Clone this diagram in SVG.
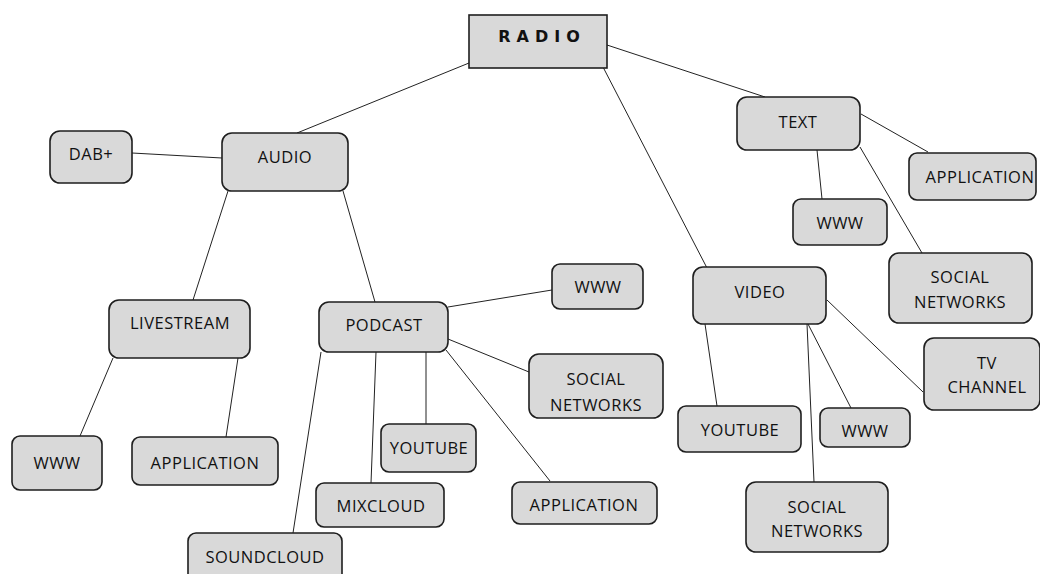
<svg xmlns="http://www.w3.org/2000/svg" width="1040" height="574" viewBox="0 0 1040 574">
<style>
.n{fill:#d9d9d9;stroke:#1e1e1e;stroke-width:1.6}
.t{font-family:"Open Sans","Noto Sans",sans-serif;font-size:16.5px;fill:#111;text-anchor:middle;letter-spacing:0.5px}
.r{font-family:"DejaVu Sans",sans-serif;font-size:16px;font-weight:bold;fill:#111;text-anchor:middle;letter-spacing:6px}
.c line{stroke:#222;stroke-width:1}
</style>
<rect width="1040" height="574" fill="#fff"/>
<g class="c" id="connectors">
<line x1="469" y1="63" x2="297" y2="133"/>
<line x1="607" y1="45" x2="765" y2="97"/>
<line x1="603" y1="67" x2="707" y2="268"/>
<line x1="132" y1="153" x2="222" y2="158"/>
<line x1="228" y1="191" x2="193" y2="300"/>
<line x1="343" y1="191" x2="375" y2="302"/>
<line x1="113" y1="358" x2="80" y2="436"/>
<line x1="238" y1="358" x2="226" y2="437"/>
<line x1="448" y1="307" x2="552" y2="290"/>
<line x1="448" y1="339" x2="529" y2="372"/>
<line x1="426" y1="352" x2="426" y2="424"/>
<line x1="376" y1="352" x2="371" y2="483"/>
<line x1="321" y1="352" x2="293" y2="533"/>
<line x1="446" y1="350" x2="550" y2="481"/>
<line x1="817" y1="150" x2="822" y2="199"/>
<line x1="861" y1="114" x2="928" y2="152"/>
<line x1="860" y1="147" x2="922" y2="253"/>
<line x1="705" y1="324" x2="717" y2="406"/>
<line x1="807" y1="324" x2="814" y2="482"/>
<line x1="808" y1="324" x2="851" y2="408"/>
<line x1="827" y1="300" x2="923" y2="392"/>
</g>
<g id="radio"><rect class="n" x="469" y="15" width="138" height="53"/><text class="r" x="542" y="42">RADIO</text></g>
<g id="dab"><rect class="n" x="50" y="131" width="82" height="52" rx="10"/><text class="t" x="91" y="160">DAB+</text></g>
<g id="audio"><rect class="n" x="222" y="133" width="126" height="58" rx="10"/><text class="t" x="285" y="163">AUDIO</text></g>
<g id="livestream"><rect class="n" x="109" y="300" width="141" height="58" rx="10"/><text class="t" x="180" y="329">LIVESTREAM</text></g>
<g id="podcast"><rect class="n" x="319" y="302" width="129" height="50" rx="10"/><text class="t" x="384" y="331">PODCAST</text></g>
<g id="ls-www"><rect class="n" x="12" y="436" width="90" height="54" rx="8"/><text class="t" x="57" y="469">WWW</text></g>
<g id="ls-app"><rect class="n" x="132" y="437" width="146" height="48" rx="8"/><text class="t" x="205" y="469">APPLICATION</text></g>
<g id="pc-www"><rect class="n" x="552" y="264" width="91" height="45" rx="8"/><text class="t" x="598" y="293">WWW</text></g>
<g id="pc-social"><rect class="n" x="529" y="354" width="134" height="64" rx="10"/><text class="t" x="596" y="385">SOCIAL</text><text class="t" x="596" y="411">NETWORKS</text></g>
<g id="pc-youtube"><rect class="n" x="381" y="424" width="95" height="48" rx="8"/><text class="t" x="429" y="454">YOUTUBE</text></g>
<g id="pc-mixcloud"><rect class="n" x="316" y="483" width="128" height="44" rx="8"/><text class="t" x="381" y="512">MIXCLOUD</text></g>
<g id="pc-app"><rect class="n" x="512" y="482" width="145" height="42" rx="8"/><text class="t" x="584" y="511">APPLICATION</text></g>
<g id="pc-soundcloud"><rect class="n" x="188" y="533" width="154" height="50" rx="8"/><text class="t" x="265" y="563">SOUNDCLOUD</text></g>
<g id="text"><rect class="n" x="737" y="97" width="123" height="53" rx="10"/><text class="t" x="798" y="128">TEXT</text></g>
<g id="tx-app"><rect class="n" x="909" y="153" width="127" height="47" rx="8"/><text class="t" x="980" y="183">APPLICATION</text></g>
<g id="tx-www"><rect class="n" x="793" y="199" width="94" height="46" rx="8"/><text class="t" x="840" y="229">WWW</text></g>
<g id="tx-social"><rect class="n" x="889" y="253" width="143" height="70" rx="10"/><text class="t" x="960" y="283">SOCIAL</text><text class="t" x="960" y="308">NETWORKS</text></g>
<g id="video"><rect class="n" x="693" y="267" width="133" height="57" rx="10"/><text class="t" x="760" y="298">VIDEO</text></g>
<g id="tv"><rect class="n" x="924" y="338" width="116" height="72" rx="10"/><text class="t" x="987" y="369">TV</text><text class="t" x="987" y="393">CHANNEL</text></g>
<g id="vd-youtube"><rect class="n" x="678" y="406" width="123" height="46" rx="8"/><text class="t" x="740" y="436">YOUTUBE</text></g>
<g id="vd-www"><rect class="n" x="820" y="408" width="90" height="39" rx="8"/><text class="t" x="865" y="437">WWW</text></g>
<g id="vd-social"><rect class="n" x="746" y="482" width="142" height="70" rx="10"/><text class="t" x="817" y="513">SOCIAL</text><text class="t" x="817" y="537">NETWORKS</text></g>
</svg>
